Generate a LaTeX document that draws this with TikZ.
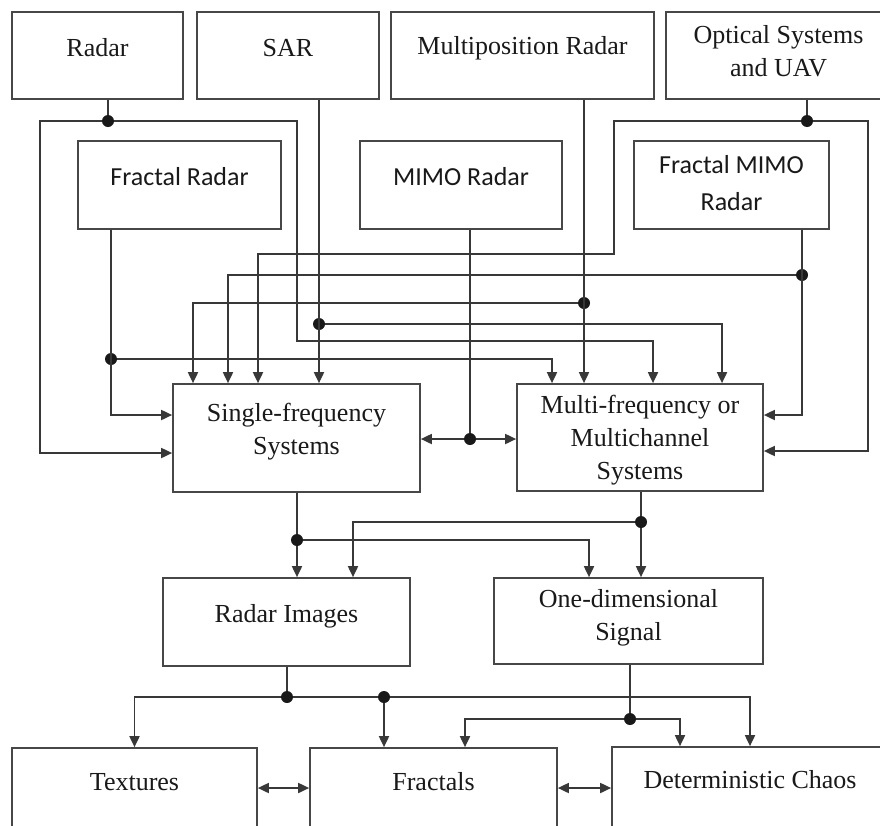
\documentclass[tikz,border=0pt]{standalone}
\usepackage{fontspec}
\setmainfont{Liberation Serif}
\newfontfamily\sansf{Carlito}
\usetikzlibrary{arrows.meta,calc}
\tikzset{
  box/.style={draw=black!72, line width=1.7pt, inner sep=0pt, rectangle},
  txt/.style={font=\fontsize{26}{33}\selectfont, text=black!90, align=center, inner sep=0pt},
  stxt/.style={font=\sansf\fontsize{26}{37}\selectfont, text=black!90, align=center, inner sep=0pt},
  conn/.style={draw=black!78, line width=1.8pt},
  arr/.style={conn, -{Triangle[length=11pt,width=10pt]}},
  darr/.style={conn, {Triangle[length=11pt,width=10pt]}-{Triangle[length=11pt,width=10pt]}},
  dot/.style={circle, fill=black!90, inner sep=0pt, minimum size=12pt}
}
\begin{document}
\begin{tikzpicture}[x=1pt,y=-1pt]
\useasboundingbox (0,0) rectangle (880,825);
\clip (0,0) rectangle (880,825);
\fill[white] (0,0) rectangle (880,825);
% boxes
\node[box, minimum width=171pt, minimum height=87pt] (radar) at (97.5,55.5) {};
\node[box, minimum width=182pt, minimum height=87pt] (sar) at (288,55.5) {};
\node[box, minimum width=263pt, minimum height=87pt] (multipos) at (522.5,55.5) {};
\node[box, minimum width=225pt, minimum height=87pt] (optical) at (778.5,55.5) {};
\node[box, minimum width=203pt, minimum height=88pt] (fradar) at (179.5,185) {};
\node[box, minimum width=202pt, minimum height=88pt] (mimo) at (461,185) {};
\node[box, minimum width=195pt, minimum height=88pt] (fmimo) at (731.5,185) {};
\node[box, minimum width=247pt, minimum height=108pt] (sf) at (296.5,438) {};
\node[box, minimum width=246pt, minimum height=107pt] (mf) at (640,437.5) {};
\node[box, minimum width=247pt, minimum height=88pt] (rimg) at (286.5,622) {};
\node[box, minimum width=269pt, minimum height=86pt] (onedim) at (628.5,621) {};
\node[box, minimum width=245pt, minimum height=112pt] (tex) at (134.5,804) {};
\node[box, minimum width=247pt, minimum height=112pt] (fract) at (433.5,804) {};
\node[box, minimum width=276pt, minimum height=113pt] (chaos) at (750,803.5) {};
% texts
\node[txt] (radar-t) at (97.5,48) {Radar};
\node[txt] (sar-t) at (288,48) {SAR};
\node[txt] (multipos-t) at (522.5,48) {Multiposition Radar};
\node[txt] (optical-t) at (778.5,51.5) {Optical Systems\\and UAV};
\node[stxt] (fradar-t) at (179.5,177) {Fractal Radar};
\node[stxt] (mimo-t) at (461,177) {MIMO Radar};
\node[stxt] (fmimo-t) at (731.5,183.5) {Fractal MIMO\\Radar};
\node[txt] (sf-t) at (296.5,431.5) {Single-frequency\\Systems};
\node[txt] (mf-t) at (640,440.5) {Multi-frequency or\\Multichannel\\Systems};
\node[txt] (rimg-t) at (286.5,616) {Radar Images};
\node[txt] (onedim-t) at (628.5,617.5) {One-dimensional\\Signal};
\node[txt] (tex-t) at (134.5,782) {Textures};
\node[txt] (fract-t) at (433.5,782) {Fractals};
\node[txt] (chaos-t) at (750,780) {Deterministic Chaos};
% junction dots
\node[dot] (dRadar) at (108,121) {};
\node[dot] (dOpt) at (807,121) {};
\node[dot] (dFM) at (802,275) {};
\node[dot] (dMP) at (584,303) {};
\node[dot] (dSAR) at (319,324) {};
\node[dot] (dFR) at (111,359) {};
\node[dot] (dMIMO) at (470,439) {};
\node[dot] (dSF) at (297,540) {};
\node[dot] (dMF) at (641,522) {};
\node[dot] (dRI) at (287,697) {};
\node[dot] (dRI2) at (384,697) {};
\node[dot] (dOD) at (630,719) {};
% Radar
\draw[conn] (dRadar |- radar.south) -- (dRadar);
\draw[arr] (dRadar) -| (40,453) -- ([yshift=-15pt]sf.west);
\draw[arr] (dRadar) -| (297,341) -| ([xshift=13pt]mf.north);
% SAR
\draw[arr] (dSAR |- sar.south) -- (dSAR |- sf.north);
\draw[arr] (dSAR) -| ([xshift=82pt]mf.north);
% Fractal Radar
\draw[arr] (dFR |- fradar.south) |- ([yshift=23pt]sf.west);
\draw[arr] (dFR) -| ([xshift=-88pt]mf.north);
% MIMO Radar
\draw[conn] (dMIMO |- mimo.south) -- (dMIMO);
\draw[arr] (dMIMO) -- (sf.east |- dMIMO);
\draw[arr] (dMIMO) -- (mf.west |- dMIMO);
% Multiposition Radar
\draw[arr] (dMP |- multipos.south) -- (dMP |- mf.north);
\draw[arr] (dMP) -| ([xshift=-103.5pt]sf.north);
% Fractal MIMO Radar
\draw[arr] (dFM |- fmimo.south) |- ([yshift=22.5pt]mf.east);
\draw[arr] (dFM) -| ([xshift=-68.5pt]sf.north);
% Optical Systems and UAV
\draw[conn] (dOpt |- optical.south) -- (dOpt);
\draw[arr] (dOpt) -| (614,254) -| ([xshift=-38.5pt]sf.north);
\draw[arr] (dOpt) -| (868,451) -- ([yshift=-13.5pt]mf.east);
% Single-frequency outputs
\draw[conn] (dSF |- sf.south) -- (dSF);
\draw[arr] (dSF) -- (dSF |- rimg.north);
\draw[arr] (dSF) -| ([xshift=-39.5pt]onedim.north);
% Multi-frequency outputs
\draw[conn] (dMF |- mf.south) -- (dMF);
\draw[arr] (dMF) -- (dMF |- onedim.north);
\draw[arr] (dMF) -| ([xshift=66.5pt]rimg.north);
% Radar Images outputs
\draw[conn] (dRI |- rimg.south) -- (dRI);
\draw[arr] (dRI) -| (tex.north);
\draw[conn] (dRI) -- (dRI2);
\draw[arr] (dRI2) -- (dRI2 |- fract.north);
\draw[arr] (dRI2) -| (chaos.north);
% One-dimensional Signal outputs
\draw[conn] (dOD |- onedim.south) -- (dOD);
\draw[arr] (dOD) -| ([xshift=31.5pt]fract.north);
\draw[arr] (dOD) -| ([xshift=-70pt]chaos.north);
% bidirectional
\draw[darr] ([yshift=16pt]tex.east) -- ([yshift=16pt]fract.west);
\draw[darr] ([yshift=16pt]fract.east) -- ([yshift=15.5pt]chaos.west);
\end{tikzpicture}
\end{document}
